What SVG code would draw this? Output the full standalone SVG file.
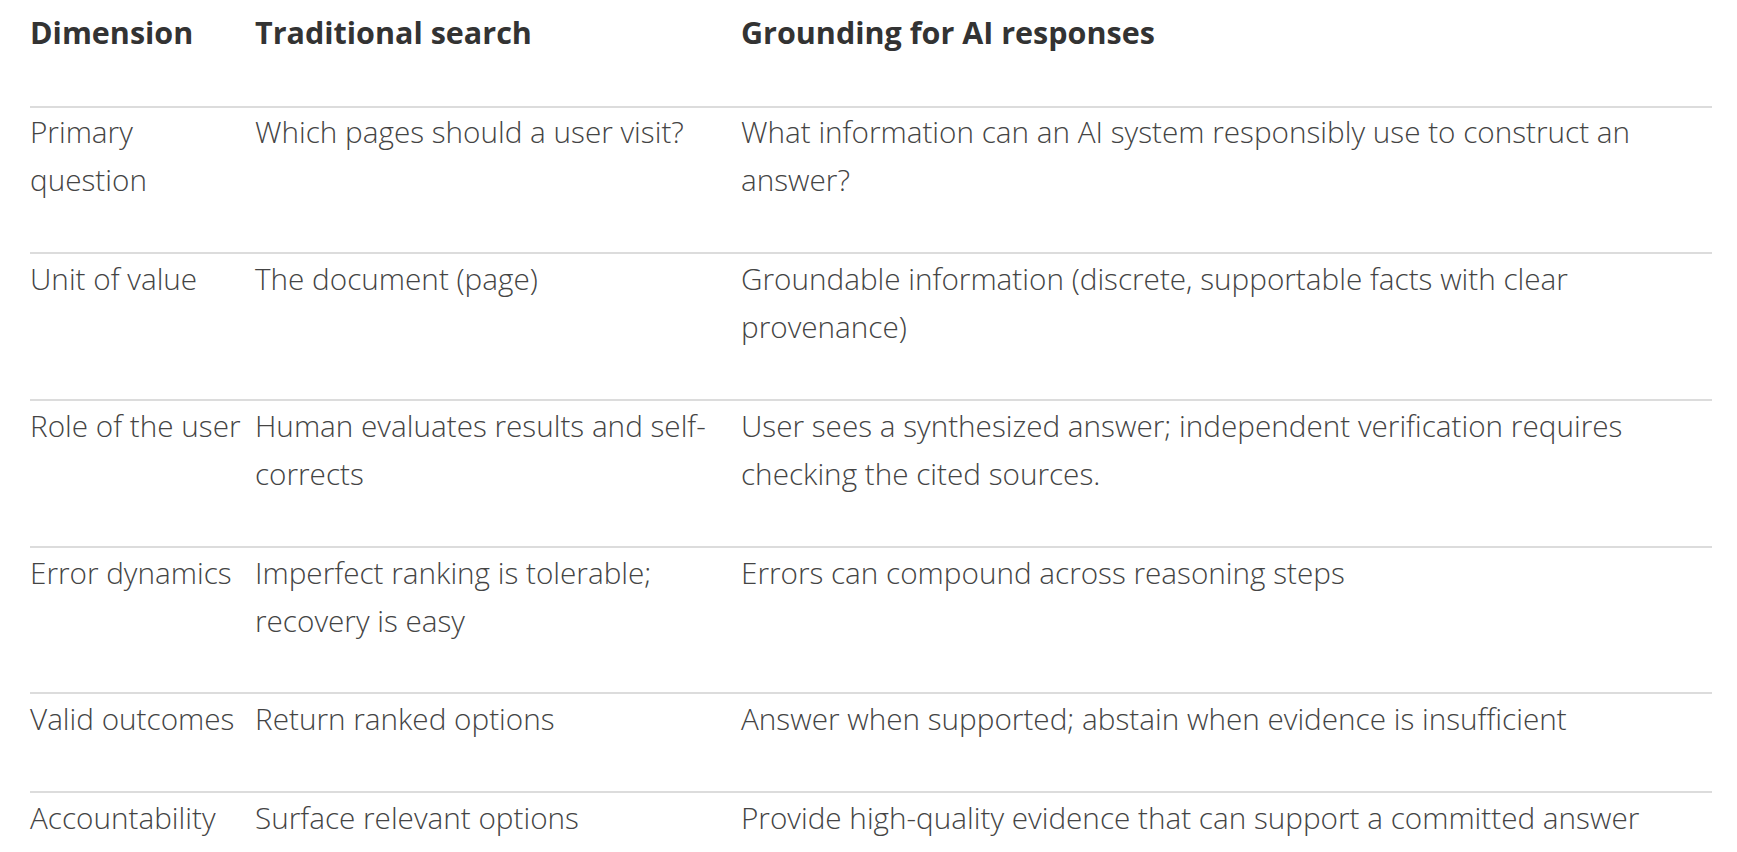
<svg xmlns="http://www.w3.org/2000/svg" width="1737" height="852" viewBox="0 0 1737 852">
<style>
text{font-family:"Open Sans","Liberation Sans",sans-serif;font-size:29.7px;fill:#444;font-weight:300}
.h{font-weight:700;fill:#333;font-size:30.5px}
line{stroke:#dcdcdc;stroke-width:2}
</style>
<rect width="1737" height="852" fill="#fff"/>
<g id="header">
<text class="h" x="30" y="44">Dimension</text>
<text class="h" x="255" y="44">Traditional search</text>
<text class="h" x="741" y="44">Grounding for AI responses</text>
</g>
<g id="connectors">
<line x1="30" y1="107" x2="1712" y2="107"/>
<line x1="30" y1="253" x2="1712" y2="253"/>
<line x1="30" y1="400" x2="1712" y2="400"/>
<line x1="30" y1="547" x2="1712" y2="547"/>
<line x1="30" y1="693" x2="1712" y2="693"/>
<line x1="30" y1="792" x2="1712" y2="792"/>
</g>
<g id="row1">
<text x="30" y="143">Primary</text><text x="30" y="191">question</text>
<text x="255" y="143">Which pages should a user visit?</text>
<text x="741" y="143">What information can an AI system responsibly use to construct an</text>
<text x="741" y="191">answer?</text>
</g>
<g id="row2">
<text x="30" y="290">Unit of value</text>
<text x="255" y="290">The document (page)</text>
<text x="741" y="290">Groundable information (discrete, supportable facts with clear</text>
<text x="741" y="338">provenance)</text>
</g>
<g id="row3">
<text x="30" y="437">Role of the user</text>
<text x="255" y="437">Human evaluates results and self-</text>
<text x="255" y="485">corrects</text>
<text x="741" y="437">User sees a synthesized answer; independent verification requires</text>
<text x="741" y="485">checking the cited sources.</text>
</g>
<g id="row4">
<text x="30" y="584">Error dynamics</text>
<text x="255" y="584">Imperfect ranking is tolerable;</text>
<text x="255" y="632">recovery is easy</text>
<text x="741" y="584">Errors can compound across reasoning steps</text>
</g>
<g id="row5">
<text x="30" y="730">Valid outcomes</text>
<text x="255" y="730">Return ranked options</text>
<text x="741" y="730">Answer when supported; abstain when evidence is insufficient</text>
</g>
<g id="row6">
<text x="30" y="829">Accountability</text>
<text x="255" y="829">Surface relevant options</text>
<text x="741" y="829">Provide high-quality evidence that can support a committed answer</text>
</g>
</svg>
